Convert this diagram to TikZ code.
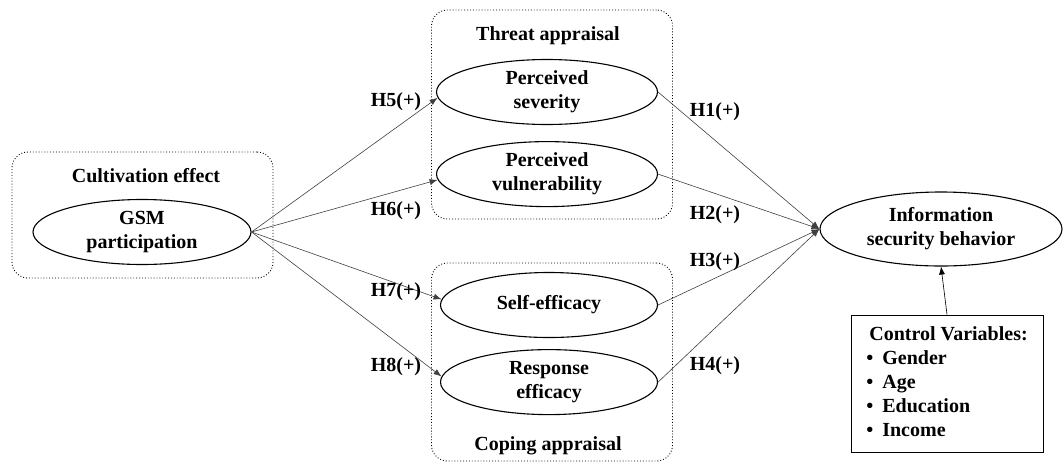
\documentclass[tikz,border=0pt]{standalone}
\usepackage{fontspec}
\setmainfont{Liberation Serif}
\usepackage{tikz}
\usetikzlibrary{arrows.meta,shapes.geometric,positioning}
\definecolor{linha}{HTML}{404040}
\newcommand{\tamanho}{\fontsize{20}{24}\selectfont\bfseries}
\tikzset{
  construto/.style={ellipse, draw=black, line width=1.1pt, minimum width=218pt, minimum height=65pt,
    inner sep=0pt, align=center, font=\tamanho},
  grupo/.style={rectangle, rounded corners=16pt, draw=black, dotted, line width=0.9pt},
  titulo/.style={font=\tamanho},
  rotulo/.style={font=\tamanho},
  seta/.style={-{Latex[length=8pt,width=6pt]}, draw=linha, line width=0.6pt},
}

\begin{document}
\begin{tikzpicture}[x=1pt, y=-1pt, node distance=16pt]
    \useasboundingbox (0,0) rectangle (1064,464);
    % grupos
    \node[grupo, minimum width=261pt, minimum height=126pt] (gcult) at (142.5,215) {};
    \node[grupo, minimum width=241pt, minimum height=209pt] (gameaca) at (552,114.5) {};
    \node[grupo, minimum width=241pt, minimum height=198pt] (gcoping) at (552,362) {};
    \node[titulo] (tcult) at (146,176) {Cultivation effect};
    \node[titulo] (tameaca) at (548,36) {Threat appraisal};
    \node[titulo] (tcoping) at (548,446) {Coping appraisal};
    % construtos
    \node[construto] (gsm) at (142,232) {GSM\\participation};
    \node[construto, minimum width=221pt] (sev) at (547,92) {Perceived\\severity};
    \node[construto, minimum width=221pt, below=16pt of sev] (vul) {Perceived\\vulnerability};
    \node[construto, minimum width=217pt] (autoef) at (549,305) {Self-efficacy};
    \node[construto, minimum width=217pt, below=11pt of autoef] (resp) {Response\\efficacy};
    \node[construto, minimum width=242pt, minimum height=74pt] (isb) at (941,229) {Information\\security behavior};
    \node[draw=black, line width=1pt, minimum width=192pt, minimum height=137pt, inner sep=0pt,
      font=\tamanho] (ctrl) at (947,383.5) {%
      \begin{tabular}{@{}l@{\hspace{9pt}}l@{}}
        \multicolumn{2}{@{\hspace{3pt}}l@{}}{Control Variables:}\\
        \textbullet & Gender\\
        \textbullet & Age\\
        \textbullet & Education\\
        \textbullet & Income
      \end{tabular}};
    % setas
    \draw[seta] (gsm.east) -- (sev.183);
    \draw[seta] (gsm.east) -- (vul.183);
    \draw[seta] (gsm.east) -- (autoef.177);
    \draw[seta] (gsm.east) -- (resp.177);
    \draw[seta] (sev.east) -- (isb.west);
    \draw[seta] (vul.east) -- (isb.west);
    \draw[seta] (autoef.east) -- (isb.west);
    \draw[seta] (resp.east) -- (isb.west);
    \draw[seta, draw=black] (ctrl.north) -- (isb.south);
    % hipoteses
    \node[rotulo] (h5) at (396,102) {H5(+)};
    \node[rotulo] (h6) at (396,211) {H6(+)};
    \node[rotulo] (h7) at (396,292) {H7(+)};
    \node[rotulo] (h8) at (396,367) {H8(+)};
    \node[rotulo] (h1) at (715,112) {H1(+)};
    \node[rotulo] (h2) at (715,215) {H2(+)};
    \node[rotulo] (h3) at (715,262) {H3(+)};
    \node[rotulo] (h4) at (715,366) {H4(+)};
\end{tikzpicture}
\end{document}
